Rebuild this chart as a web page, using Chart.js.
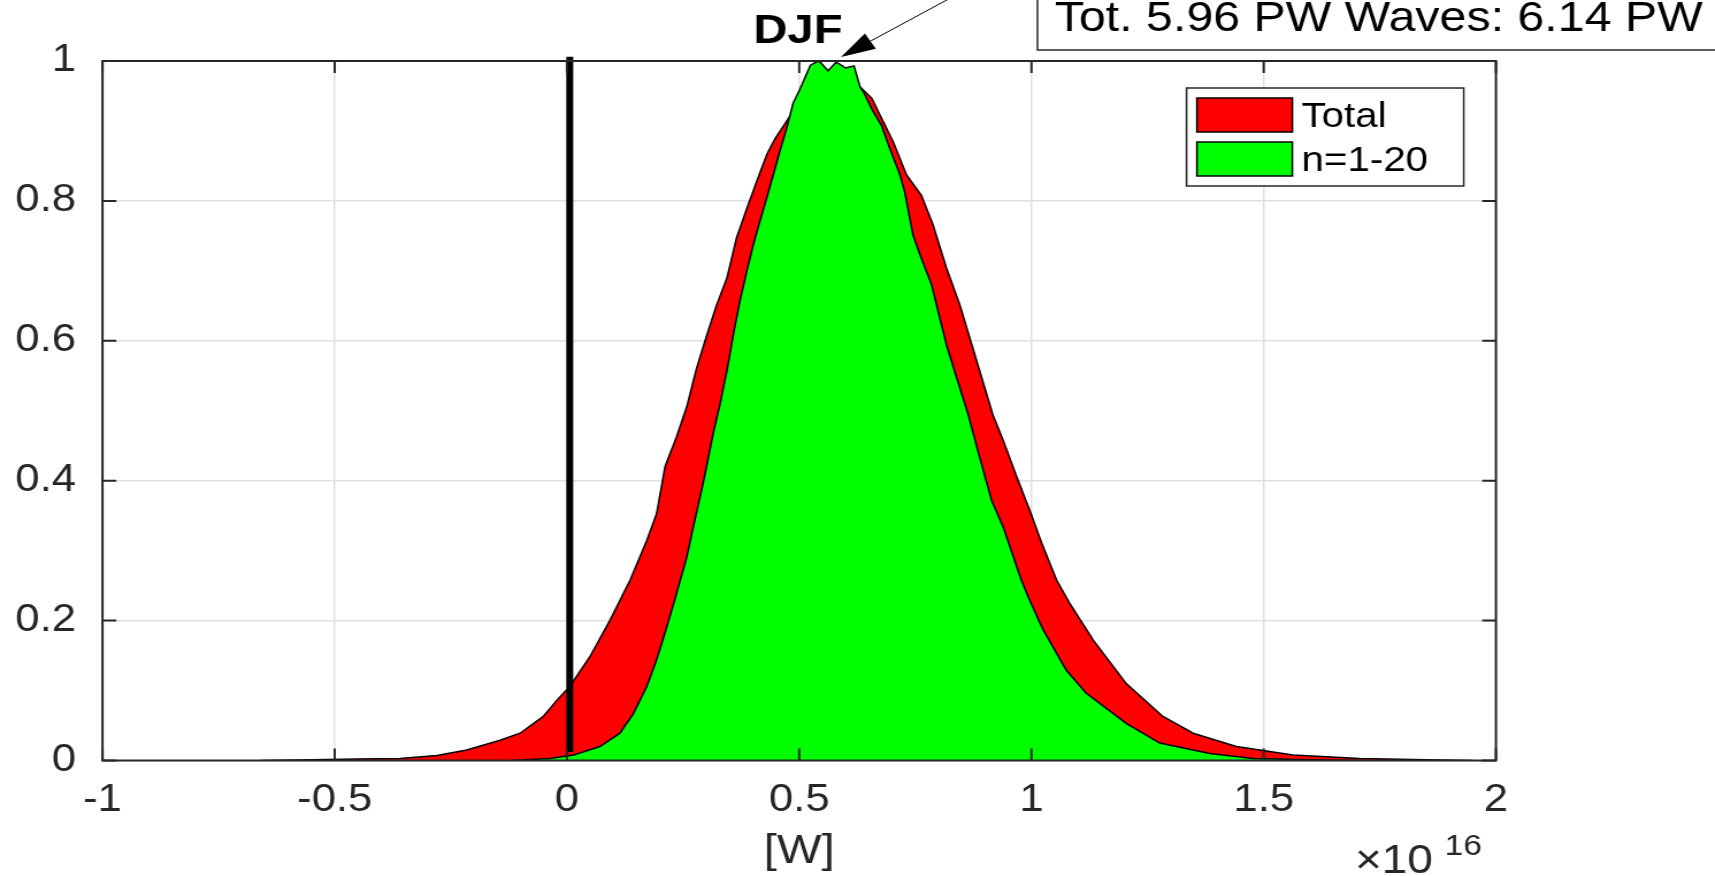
<!DOCTYPE html>
<html lang="en">
<head>
<meta charset="UTF-8">
<title>DJF | transport distribution</title>
<script src="https://cdn.jsdelivr.net/npm/chart.js"></script>
<style>
  html, body { margin: 0; padding: 0; background: #fff; overflow: hidden; }
  /* figure was exported wider than tall, keep the same stretch */
  #wrap { width: 1491px; height: 876px; transform: scaleX(1.1502); transform-origin: 0 0; }
</style>
</head>
<body>
<div id="wrap"><canvas id="pdf" width="1491" height="876"></canvas></div>
<script>
// transport values in units of 1e16 W, normalised PDFs
const totalX = [-0.66, -0.55, -0.45, -0.36, -0.28, -0.216, -0.144, -0.101, -0.051, -0.022,
  0.006, 0.049, 0.093, 0.136, 0.172, 0.193, 0.211, 0.236, 0.258, 0.279,
  0.301, 0.322, 0.344, 0.365, 0.387, 0.408, 0.43, 0.448, 0.484, 0.51,
  0.54, 0.57, 0.6, 0.631, 0.656, 0.681, 0.702, 0.731, 0.763, 0.788,
  0.817, 0.846, 0.874, 0.917, 0.939, 0.968, 0.996, 1.022, 1.054, 1.082,
  1.133, 1.204, 1.283, 1.348, 1.441, 1.563, 1.706, 1.85, 1.95];
const totalY = [0, 0.001, 0.002, 0.003, 0.007, 0.015, 0.029, 0.039, 0.063, 0.086,
  0.106, 0.148, 0.201, 0.258, 0.315, 0.353, 0.42, 0.463, 0.506, 0.561,
  0.608, 0.651, 0.689, 0.747, 0.789, 0.827, 0.866, 0.889, 0.925, 0.95,
  0.975, 0.985, 0.985, 0.963, 0.947, 0.913, 0.885, 0.837, 0.808, 0.766,
  0.704, 0.651, 0.589, 0.494, 0.458, 0.406, 0.358, 0.311, 0.258, 0.225,
  0.172, 0.11, 0.063, 0.039, 0.02, 0.008, 0.003, 0.001, 0];

const wavesX = [-0.12, -0.037, 0.014, 0.071, 0.114, 0.143, 0.172, 0.193, 0.215, 0.236,
  0.258, 0.272, 0.293, 0.315, 0.329, 0.344, 0.358, 0.372, 0.387, 0.401,
  0.415, 0.43, 0.444, 0.458, 0.473, 0.487, 0.501, 0.524, 0.541, 0.547,
  0.562, 0.579, 0.586, 0.6, 0.618, 0.631, 0.638, 0.659, 0.677, 0.695,
  0.717, 0.727, 0.745, 0.76, 0.785, 0.817, 0.864, 0.882, 0.914, 0.939,
  0.978, 0.996, 1.025, 1.075, 1.118, 1.204, 1.276, 1.384, 1.477, 1.6, 1.7];
const wavesY = [0, 0.003, 0.008, 0.02, 0.039, 0.067, 0.106, 0.144, 0.191, 0.239,
  0.291, 0.334, 0.396, 0.468, 0.508, 0.556, 0.608, 0.656, 0.699, 0.737,
  0.77, 0.804, 0.837, 0.87, 0.904, 0.94, 0.959, 0.994, 1.0, 0.997,
  0.986, 0.998, 0.996, 0.99, 0.993, 0.963, 0.956, 0.928, 0.908, 0.875,
  0.837, 0.813, 0.751, 0.723, 0.68, 0.594, 0.494, 0.449, 0.372, 0.334,
  0.258, 0.229, 0.187, 0.129, 0.096, 0.053, 0.025, 0.01, 0.003, 0.001, 0];

// zero-transport marker
const markX = [0.006, 0.006];
const markY = [0.012, 1.006];

const seriesNames = ['Total', 'n=1-20'];
const seriesColors = ['#ff0000', '#00ff00'];
const xTicks = [-1, -0.5, 0, 0.5, 1, 1.5, 2];
const yTicks = [0, 0.2, 0.4, 0.6, 0.8, 1];
const seasonLabel = 'DJF';
const noteText = 'Tot. 5.96 PW Waves: 6.14 PW';
const arrowAt = 0.59;

const ink = '#262626';
const fontFam = "'Liberation Sans', Arial, Helvetica, sans-serif";
Chart.defaults.font.family = fontFam;
Chart.defaults.color = ink;

const pts = (xs, ys) => xs.map((x, i) => ({ x: x, y: ys[i] }));

const notes = {
  id: 'notes',
  afterDatasetsDraw(chart) {
    const { ctx, chartArea: a, scales: { x, y } } = chart;
    const tl = 12;
    ctx.save();

    // axes box
    ctx.strokeStyle = ink;
    ctx.lineWidth = 2;
    ctx.strokeRect(a.left, a.top, a.right - a.left, a.bottom - a.top);

    // tick marks point inwards, on all four sides
    ctx.beginPath();
    xTicks.forEach(v => {
      const px = x.getPixelForValue(v);
      ctx.moveTo(px, a.bottom); ctx.lineTo(px, a.bottom - tl);
      ctx.moveTo(px, a.top); ctx.lineTo(px, a.top + tl);
    });
    yTicks.forEach(v => {
      const py = y.getPixelForValue(v);
      ctx.moveTo(a.left, py); ctx.lineTo(a.left + tl, py);
      ctx.moveTo(a.right, py); ctx.lineTo(a.right - tl, py);
    });
    ctx.stroke();

    // legend
    const lx = a.right - 269, ly = a.top + 27;
    ctx.fillStyle = '#fff';
    ctx.fillRect(lx, ly, 241, 98);
    ctx.lineWidth = 1.5;
    ctx.strokeStyle = ink;
    ctx.strokeRect(lx, ly, 241, 98);
    ctx.font = '35px ' + fontFam;
    ctx.textBaseline = 'alphabetic';
    seriesNames.forEach((name, i) => {
      const sy = ly + 10 + i * 44;
      ctx.fillStyle = seriesColors[i];
      ctx.fillRect(lx + 9, sy, 83, 34);
      ctx.strokeStyle = '#000';
      ctx.strokeRect(lx + 9, sy, 83, 34);
      ctx.fillStyle = '#000';
      ctx.fillText(name, lx + 100, sy + 29);
    });

    // text box at the top right
    ctx.fillStyle = '#fff';
    ctx.fillRect(902, -5, 700, 55);
    ctx.strokeStyle = ink;
    ctx.lineWidth = 1.5;
    ctx.strokeRect(902, -5, 700, 55);
    ctx.fillStyle = '#000';
    ctx.font = '42px ' + fontFam;
    ctx.fillText(noteText, 917, 31);

    // season label and arrow
    ctx.font = 'bold 41px ' + fontFam;
    ctx.fillText(seasonLabel, 655, 43);
    const tx = x.getPixelForValue(arrowAt), ty = a.top - 4;
    const dx = 100, dy = -62, len = Math.hypot(dx, dy);
    const ux = dx / len, uy = dy / len;
    ctx.strokeStyle = '#000';
    ctx.lineWidth = 1;
    ctx.beginPath();
    ctx.moveTo(tx + ux * 20, ty + uy * 20);
    ctx.lineTo(tx + dx * 1.2, ty + dy * 1.2);
    ctx.stroke();
    const hl = 30, hw = 9;
    ctx.beginPath();
    ctx.moveTo(tx, ty);
    ctx.lineTo(tx + ux * hl - uy * hw, ty + uy * hl + ux * hw);
    ctx.lineTo(tx + ux * hl + uy * hw, ty + uy * hl - ux * hw);
    ctx.closePath();
    ctx.fill();

    // exponent of the x axis
    ctx.fillStyle = ink;
    ctx.font = '40px ' + fontFam;
    ctx.fillText('\u00d710', 1178, 873);
    ctx.font = '29px ' + fontFam;
    ctx.fillText('16', 1256, 855);

    ctx.restore();
  }
};

new Chart(document.getElementById('pdf'), {
  type: 'line',
  data: {
    datasets: [
      {
        label: seriesNames[0],
        data: pts(totalX, totalY),
        backgroundColor: seriesColors[0],
        borderColor: '#000',
        borderWidth: 1.5,
        fill: 'origin',
        pointRadius: 0,
        tension: 0,
        order: 2
      },
      {
        label: seriesNames[1],
        data: pts(wavesX, wavesY),
        backgroundColor: seriesColors[1],
        borderColor: '#000',
        borderWidth: 1.5,
        fill: 'origin',
        pointRadius: 0,
        tension: 0,
        order: 1
      },
      {
        label: 'zero',
        data: pts(markX, markY),
        borderColor: '#000',
        borderWidth: 6,
        borderCapStyle: 'butt',
        fill: false,
        pointRadius: 0,
        clip: false,
        order: 0
      }
    ]
  },
  options: {
    responsive: false,
    animation: false,
    layout: { padding: { top: 61, right: 190.4, bottom: 0, left: 0 } },
    plugins: {
      legend: { display: false },
      tooltip: { enabled: false }
    },
    scales: {
      x: {
        type: 'linear',
        min: -1,
        max: 2,
        afterBuildTicks: s => { s.ticks = xTicks.map(v => ({ value: v })); },
        afterFit: s => { s.height = 115.5; },
        grid: { color: '#e0e0e0', lineWidth: 1.5, drawTicks: false },
        border: { display: false },
        ticks: { padding: 17, color: ink, font: { size: 38 }, maxRotation: 0, callback: v => String(v) },
        title: { display: true, text: '[W]', color: ink, font: { size: 41 }, padding: 0 }
      },
      y: {
        type: 'linear',
        min: 0,
        max: 1,
        afterBuildTicks: s => { s.ticks = yTicks.map(v => ({ value: v })); },
        afterFit: s => { s.width = 89.1; },
        grid: { color: '#e0e0e0', lineWidth: 1.5, drawTicks: false },
        border: { display: false },
        ticks: { padding: 23, color: ink, font: { size: 38 }, callback: v => String(v) }
      }
    }
  },
  plugins: [notes]
});
</script>
</body>
</html>
